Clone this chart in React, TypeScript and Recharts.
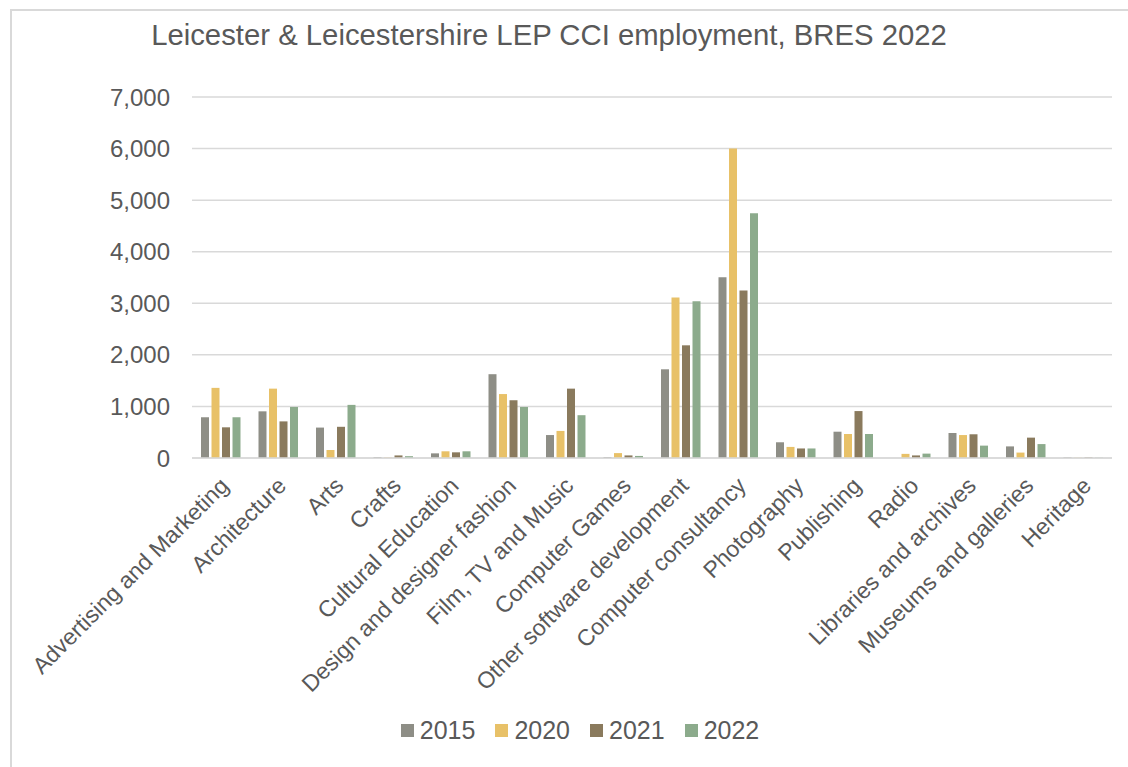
import React from "react";
import { BarChart, Bar, XAxis, YAxis, CartesianGrid, Legend } from "recharts";

const categories = [
  "Advertising and Marketing",
  "Architecture",
  "Arts",
  "Crafts",
  "Cultural Education",
  "Design and designer fashion",
  "Film, TV and Music",
  "Computer Games",
  "Other software development",
  "Computer consultancy",
  "Photography",
  "Publishing",
  "Radio",
  "Libraries and archives",
  "Museums and galleries",
  "Heritage",
];
const v2015 = [790, 905, 590, 15, 90, 1625, 445, 15, 1720, 3505, 305, 510, 0, 485, 225, 10];
const v2020 = [1360, 1345, 155, 8, 130, 1240, 525, 95, 3110, 6000, 215, 465, 80, 445, 105, 5];
const v2021 = [595, 710, 605, 50, 110, 1120, 1345, 50, 2185, 3250, 185, 910, 50, 460, 395, 10];
const v2022 = [790, 990, 1030, 35, 130, 990, 830, 40, 3040, 4745, 185, 465, 85, 240, 270, 5];
const yTicks = [0, 1000, 2000, 3000, 4000, 5000, 6000, 7000];
const seriesNames = ["2015", "2020", "2021", "2022"];
const seriesColors = ["#8e8e86", "#e8c168", "#8a7a5d", "#8cab8c"];

const data = categories.map((c, i) => ({
  name: c,
  "2015": v2015[i],
  "2020": v2020[i],
  "2021": v2021[i],
  "2022": v2022[i],
}));

const FONT = "'Liberation Sans', Arial, sans-serif";
const TEXT = "#595959";

const XTick = (props: any) => {
  const { x, y, payload } = props;
  const px = x - 3;
  const py = y + 15;
  return (
    <text
      x={px}
      y={py}
      transform={`rotate(-45, ${px}, ${py})`}
      textAnchor="end"
      dy="0.75em"
      fill={TEXT}
      fontSize={23}
      fontFamily={FONT}
    >
      {payload.value}
    </text>
  );
};

const LegendContent = () => (
  <div
    style={{
      display: "flex",
      justifyContent: "center",
      paddingLeft: 32,
      fontFamily: FONT,
      fontSize: 25,
      color: TEXT,
    }}
  >
    {seriesNames.map((n, i) => (
      <div key={n} style={{ display: "flex", alignItems: "center", marginRight: i < 3 ? 20 : 0 }}>
        <div style={{ width: 13, height: 13, background: seriesColors[i], marginRight: 6 }} />
        <span>{n}</span>
      </div>
    ))}
  </div>
);

export default function App() {
  return (
    <div
      style={{
        position: "absolute",
        left: 0,
        top: 0,
        width: 1128,
        height: 767,
        overflow: "hidden",
        background: "#fff",
      }}
    >
      <div
        style={{
          position: "absolute",
          left: 10,
          top: 9,
          width: 1300,
          height: 900,
          border: "2px solid #d9d9d9",
        }}
      />
      <div
        style={{
          position: "absolute",
          left: 0,
          top: 17,
          width: 1098,
          textAlign: "center",
          fontFamily: FONT,
          fontSize: 29.3,
          color: TEXT,
          lineHeight: "36px",
        }}
      >
        Leicester &amp; Leicestershire LEP CCI employment, BRES 2022
      </div>
      <div style={{ position: "absolute", left: 0, top: 0 }}>
        <BarChart
          width={1128}
          height={767}
          data={data}
          margin={{ top: 97, right: 16, bottom: 73, left: 0 }}
          barGap={2.5}
          barSize={8}
        >
          <CartesianGrid vertical={false} stroke="#d9d9d9" strokeWidth={1.5} />
          <XAxis
            dataKey="name"
            interval={0}
            height={200}
            tick={<XTick />}
            tickLine={false}
            tickSize={0}
            axisLine={{ stroke: "#d9d9d9", strokeWidth: 1.5 }}
          />
          <YAxis
            width={192}
            domain={[0, 7000]}
            ticks={yTicks}
            interval={0}
            tickLine={false}
            tickSize={0}
            tickMargin={22}
            axisLine={false}
            tickFormatter={(v: number) => v.toLocaleString("en-US")}
            tick={{ fill: TEXT, fontSize: 24, fontFamily: FONT }}
          />
          <Legend
            content={<LegendContent />}
            height={36}
            wrapperStyle={{ position: "absolute", left: 0, top: 716, width: 1128, height: 36 }}
          />
          {seriesNames.map((n, i) => (
            <Bar key={n} dataKey={n} fill={seriesColors[i]} isAnimationActive={false} />
          ))}
        </BarChart>
      </div>
    </div>
  );
}
